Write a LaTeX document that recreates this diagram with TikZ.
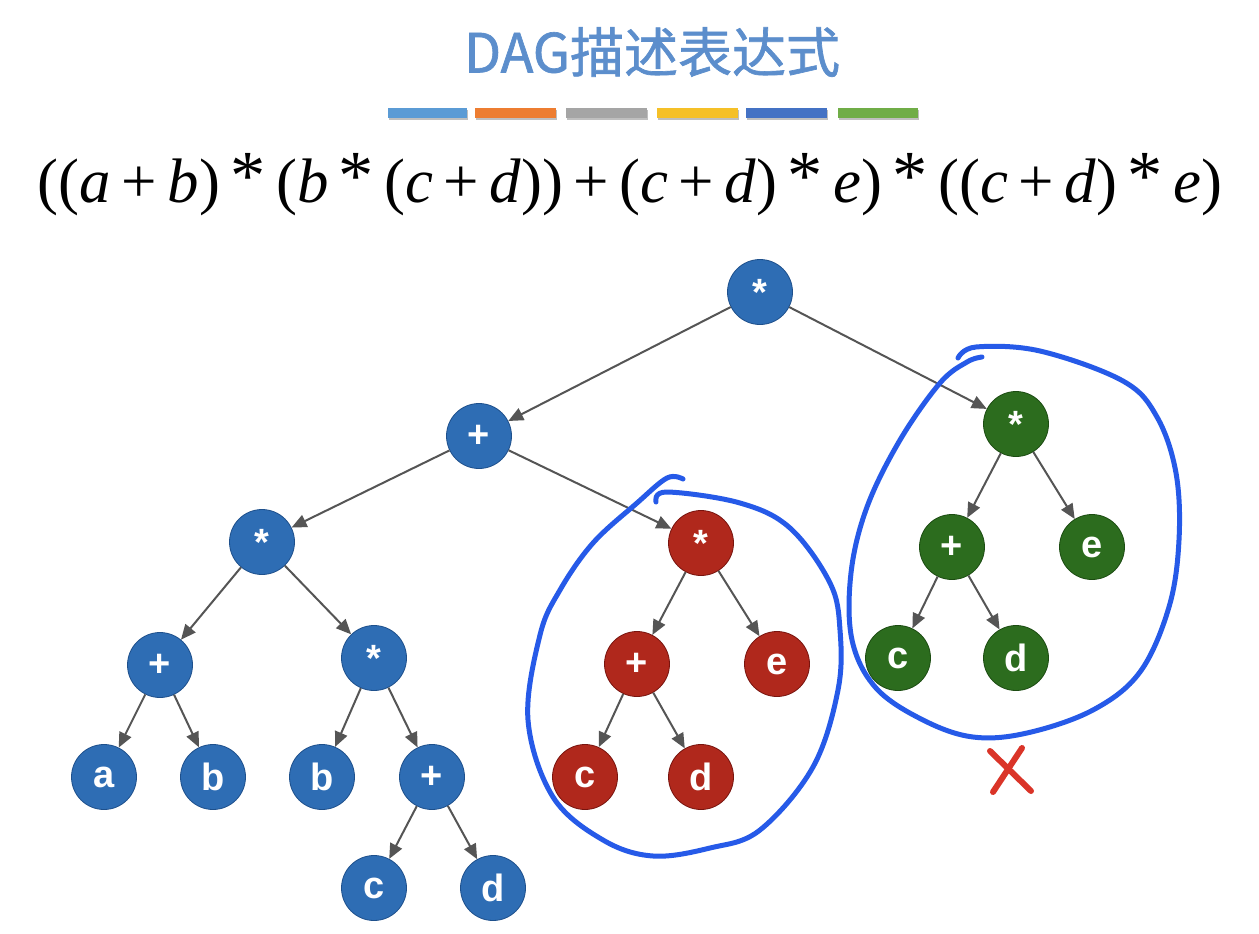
\documentclass[tikz,border=0pt]{standalone}
\usepackage{fontspec}
\usepackage{graphicx}
\setmainfont{Liberation Sans}
\newfontfamily\cjk[FakeBold=1.2]{Noto Sans CJK SC}
\newfontfamily\tms{Liberation Serif}
\usetikzlibrary{arrows.meta}
\definecolor{nblue}{RGB}{46,109,180}
\definecolor{nbluedk}{RGB}{30,80,140}
\definecolor{nred}{RGB}{176,40,28}
\definecolor{nreddk}{RGB}{120,20,14}
\definecolor{ngreen}{RGB}{44,108,30}
\definecolor{ngreendk}{RGB}{28,76,18}
\definecolor{titleblue}{RGB}{92,142,204}
\definecolor{edgegray}{RGB}{85,85,85}
\definecolor{penblue}{RGB}{38,90,232}
\definecolor{xred}{RGB}{218,52,40}
\definecolor{bar1}{RGB}{91,155,213}
\definecolor{bar2}{RGB}{237,125,49}
\definecolor{bar3}{RGB}{165,165,165}
\definecolor{bar4}{RGB}{245,192,40}
\definecolor{bar5}{RGB}{68,114,196}
\definecolor{bar6}{RGB}{112,173,71}
\newcommand\fa[1]{\textit{#1}}
\newcommand\pl{\,+\,}
\newcommand\st{\,\raisebox{0.05em}{\scalebox{1.12}{*}}\,}
\begin{document}
\begin{tikzpicture}[x=1pt,y=-1pt,
  tnode/.style={circle,minimum size=65pt,inner sep=0pt,text=white,font=\fontsize{38}{40}\selectfont\bfseries,line width=0.8pt},
  bnode/.style={tnode,fill=nblue,draw=nbluedk},
  rnode/.style={tnode,fill=nred,draw=nreddk},
  gnode/.style={tnode,fill=ngreen,draw=ngreendk},
  edge/.style={draw=edgegray,line width=2pt,-{Triangle[length=15pt,width=13pt]}},
  pen/.style={draw=penblue,line width=5pt,line cap=round,line join=round},
]
\useasboundingbox (0,0) rectangle (1259,934);
\fill[white] (0,0) rectangle (1259,934);
% title
\node[text=titleblue,inner sep=0pt] (title) at (652,52) {\cjk\fontsize{54}{60}\selectfont DAG描述表达式};
% bars
\foreach \xa/\xb/\c in {388/467/bar1,475/556/bar2,566/647/bar3,657/738/bar4,746/827/bar5,838/918/bar6}{
  \fill[black!25] (\xa+1,110) rectangle (\xb+1,120);
  \fill[\c] (\xa,108) rectangle (\xb,118);
}
% formula
\node[inner sep=0pt] (formula) at (630,185) {\resizebox{1184pt}{!}{\tms\fontsize{40}{44}\selectfont ((\fa{a}\pl\fa{b})\st(\fa{b}\st(\fa{c}\pl\fa{d}))\pl(\fa{c}\pl\fa{d})\st\fa{e})\st((\fa{c}\pl\fa{d})\st\fa{e})}};
% nodes
\node[bnode] (root) at (760,292) {*};
\node[bnode] (p1) at (479,436) {+};
\node[bnode] (s1) at (262,542) {*};
\node[bnode] (p2) at (160,665) {+};
\node[bnode] (na) at (104,777) {a};
\node[bnode] (nb1) at (213,777) {b};
\node[bnode] (s2) at (374,658) {*};
\node[bnode] (nb2) at (322,777) {b};
\node[bnode] (p3) at (432,777) {+};
\node[bnode] (nc1) at (374,888) {c};
\node[bnode] (nd1) at (493,888) {d};
\node[rnode] (rs) at (701,543) {*};
\node[rnode] (rp) at (637,664) {+};
\node[rnode] (re) at (777,664) {e};
\node[rnode] (rc) at (585,777) {c};
\node[rnode] (rd) at (701,777) {d};
\node[gnode] (gs) at (1016,424) {*};
\node[gnode] (gp) at (952,547) {+};
\node[gnode] (ge) at (1092,547) {e};
\node[gnode] (gc) at (898,658) {c};
\node[gnode] (gd) at (1016,658) {d};
% edges
\foreach \a/\b in {root/p1,root/gs,p1/s1,p1/rs,s1/p2,s1/s2,p2/na,p2/nb1,s2/nb2,s2/p3,p3/nc1,p3/nd1,rs/rp,rs/re,rp/rc,rp/rd,gs/gp,gs/ge,gp/gc,gp/gd}{
  \draw[edge] (\a) -- (\b);
}
% pen loops
\draw[pen] plot[smooth,tension=0.6] coordinates {(683,479) (667,478) (637,503) (593,543) (560,590) (540,635) (528,720) (553,797) (603,840) (653,856) (710,848) (760,830) (813,767) (838,690) (840,630) (830,583) (790,528) (740,503) (667,492) (656,502)};
\draw[pen] plot[smooth,tension=0.6] coordinates {(958,358) (976,347) (1040,351) (1123,381) (1157,417) (1176,473) (1179,540) (1169,607) (1140,672) (1093,710) (1027,733) (973,737) (923,720) (876,688) (852,640) (851,573) (867,507) (900,440) (940,383) (967,362) (982,357)};
% X mark
\coordinate (x1) at (990,751);
\coordinate (x2) at (1031,791);
\coordinate (x3) at (1022,748);
\coordinate (x4) at (993,792);
\draw[xred,line width=6pt,line cap=round] (x1) -- (x2);
\draw[xred,line width=6pt,line cap=round] (x3) -- (x4);
\end{tikzpicture}
\end{document}
